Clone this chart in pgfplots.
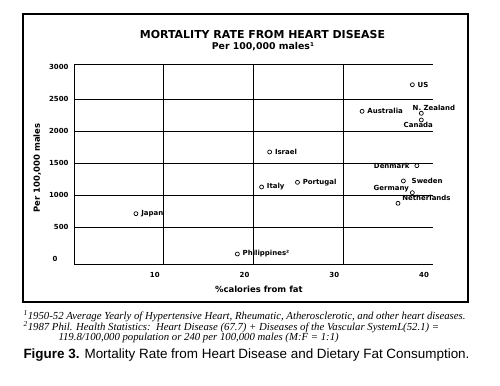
\documentclass[border=0pt]{standalone}
\usepackage{fontspec}
\usepackage{pgfplots}
\pgfplotsset{compat=1.18}
\setmainfont{DejaVu Sans}
\newfontfamily\serifit{Liberation Serif}
\newfontfamily\capfont{Liberation Sans}

\pgfplotsset{pts/.style n args={3}{only marks, mark=o, mark size=2bp,
  mark options={line width=0.7bp, black, fill=white},
  nodes near coords, point meta=explicit symbolic,
  every node near coord/.append style={anchor=#1, xshift=#2, yshift=#3, inner sep=2pt,
    font=\bfseries\fontsize{7}{8}\selectfont, text=black}}}

\begin{document}
\begin{tikzpicture}
\useasboundingbox (0,0) rectangle (500bp,386bp);
\fill[white] (0,0) rectangle (500bp,386bp);
\draw[line width=1.5bp] (23bp,84bp) rectangle (468bp,372bp);
\node[font=\bfseries\fontsize{11}{13}\selectfont] at (262.5bp,351bp) {MORTALITY RATE FROM HEART DISEASE};
\node[font=\bfseries\fontsize{9.4}{11}\selectfont] at (263bp,339bp) {Per 100,000 males¹};
\begin{axis}[
  at={(74bp,121bp)}, anchor=south west,
  scale only axis, width=359bp, height=201bp,
  xmin=0, xmax=40, ymin=-94, ymax=3047,
  axis lines=left,
  x axis line style={-}, y axis line style={-},
  axis line style={line width=1bp, black},
  major tick length=0pt, tick style={draw=none},
  xtick={10,20,30,40}, ytick={0,500,...,3000},
  yticklabels={{0\hspace*{11bp}},500,1000,1500,2000,2500,3000},
  extra x ticks={10,20,30}, extra x tick labels={},
  extra y ticks={500,1000,1500,2000,2500,3047}, extra y tick labels={},
  extra x tick style={grid=major}, extra y tick style={grid=major},
  major grid style={black, line width=0.8bp},
  /pgf/number format/assume math mode=true,
  /pgf/number format/1000 sep={},
  ticklabel style={font=\bfseries\fontsize{7}{8}\selectfont},
  xticklabel style={xshift=-9bp, yshift=-4bp},
  yticklabel style={xshift=-2bp},
  xlabel={\%calories from fat},
  ylabel={Per 100,000 males},
  every axis x label/.style={at={(axis description cs:0.515,-0.119)}, anchor=center, font=\bfseries\fontsize{8.5}{10}\selectfont},
  every axis y label/.style={at={(axis description cs:-0.102,0.483)}, anchor=center, rotate=90, font=\bfseries\fontsize{8.5}{10}\selectfont},
  clip=false,
]
\addplot[pts={west}{3bp}{0bp}] coordinates {
  (6.9,708) [Japan]
  (18.2,78) [Philippines²]
  (21.8,1672) [Israel]
  (20.9,1125) [Italy]
  (24.9,1198) [Portugal]
  (37.7,2723) [US]
  (32.1,2308) [Australia]
};
\addplot[pts={south west}{-11bp}{0bp}] coordinates {(38.7,2277) [N. Zealand]};
\addplot[pts={north}{-3bp}{0bp}] coordinates {(38.7,2172) [Canada]};
\addplot[pts={east}{-5bp}{0bp}] coordinates {(38.2,1458) [Denmark]};
\addplot[pts={west}{6bp}{0bp}] coordinates {(36.7,1219) [Sweden]};
\addplot[pts={east}{-1bp}{4bp}] coordinates {(37.7,1036) [Germany]};
\addplot[pts={west}{2bp}{5bp}] coordinates {(36.1,870) [Netherlands]};
\end{axis}
\node[anchor=west, font=\serifit\itshape\fontsize{10.8}{12}\selectfont] at (20bp,70bp) {\textsuperscript{1}1950-52 Average Yearly of Hypertensive Heart, Rheumatic, Atherosclerotic, and other heart diseases.};
\node[anchor=west, font=\serifit\itshape\fontsize{10.8}{12}\selectfont] at (20bp,59bp) {\textsuperscript{2}1987 Phil. Health Statistics:\ \ Heart Disease (67.7) + Diseases of the Vascular SystemL(52.1) =};
\node[anchor=west, font=\serifit\itshape\fontsize{10.8}{12}\selectfont] at (55bp,48bp) {119.8/100,000 population or 240 per 100,000 males (M:F = 1:1)};
\node[anchor=west, font=\capfont\fontsize{13.5}{15}\selectfont] at (20bp,31bp) {{\bfseries Figure 3.} Mortality Rate from Heart Disease and Dietary Fat Consumption.};
\end{tikzpicture}
\end{document}
